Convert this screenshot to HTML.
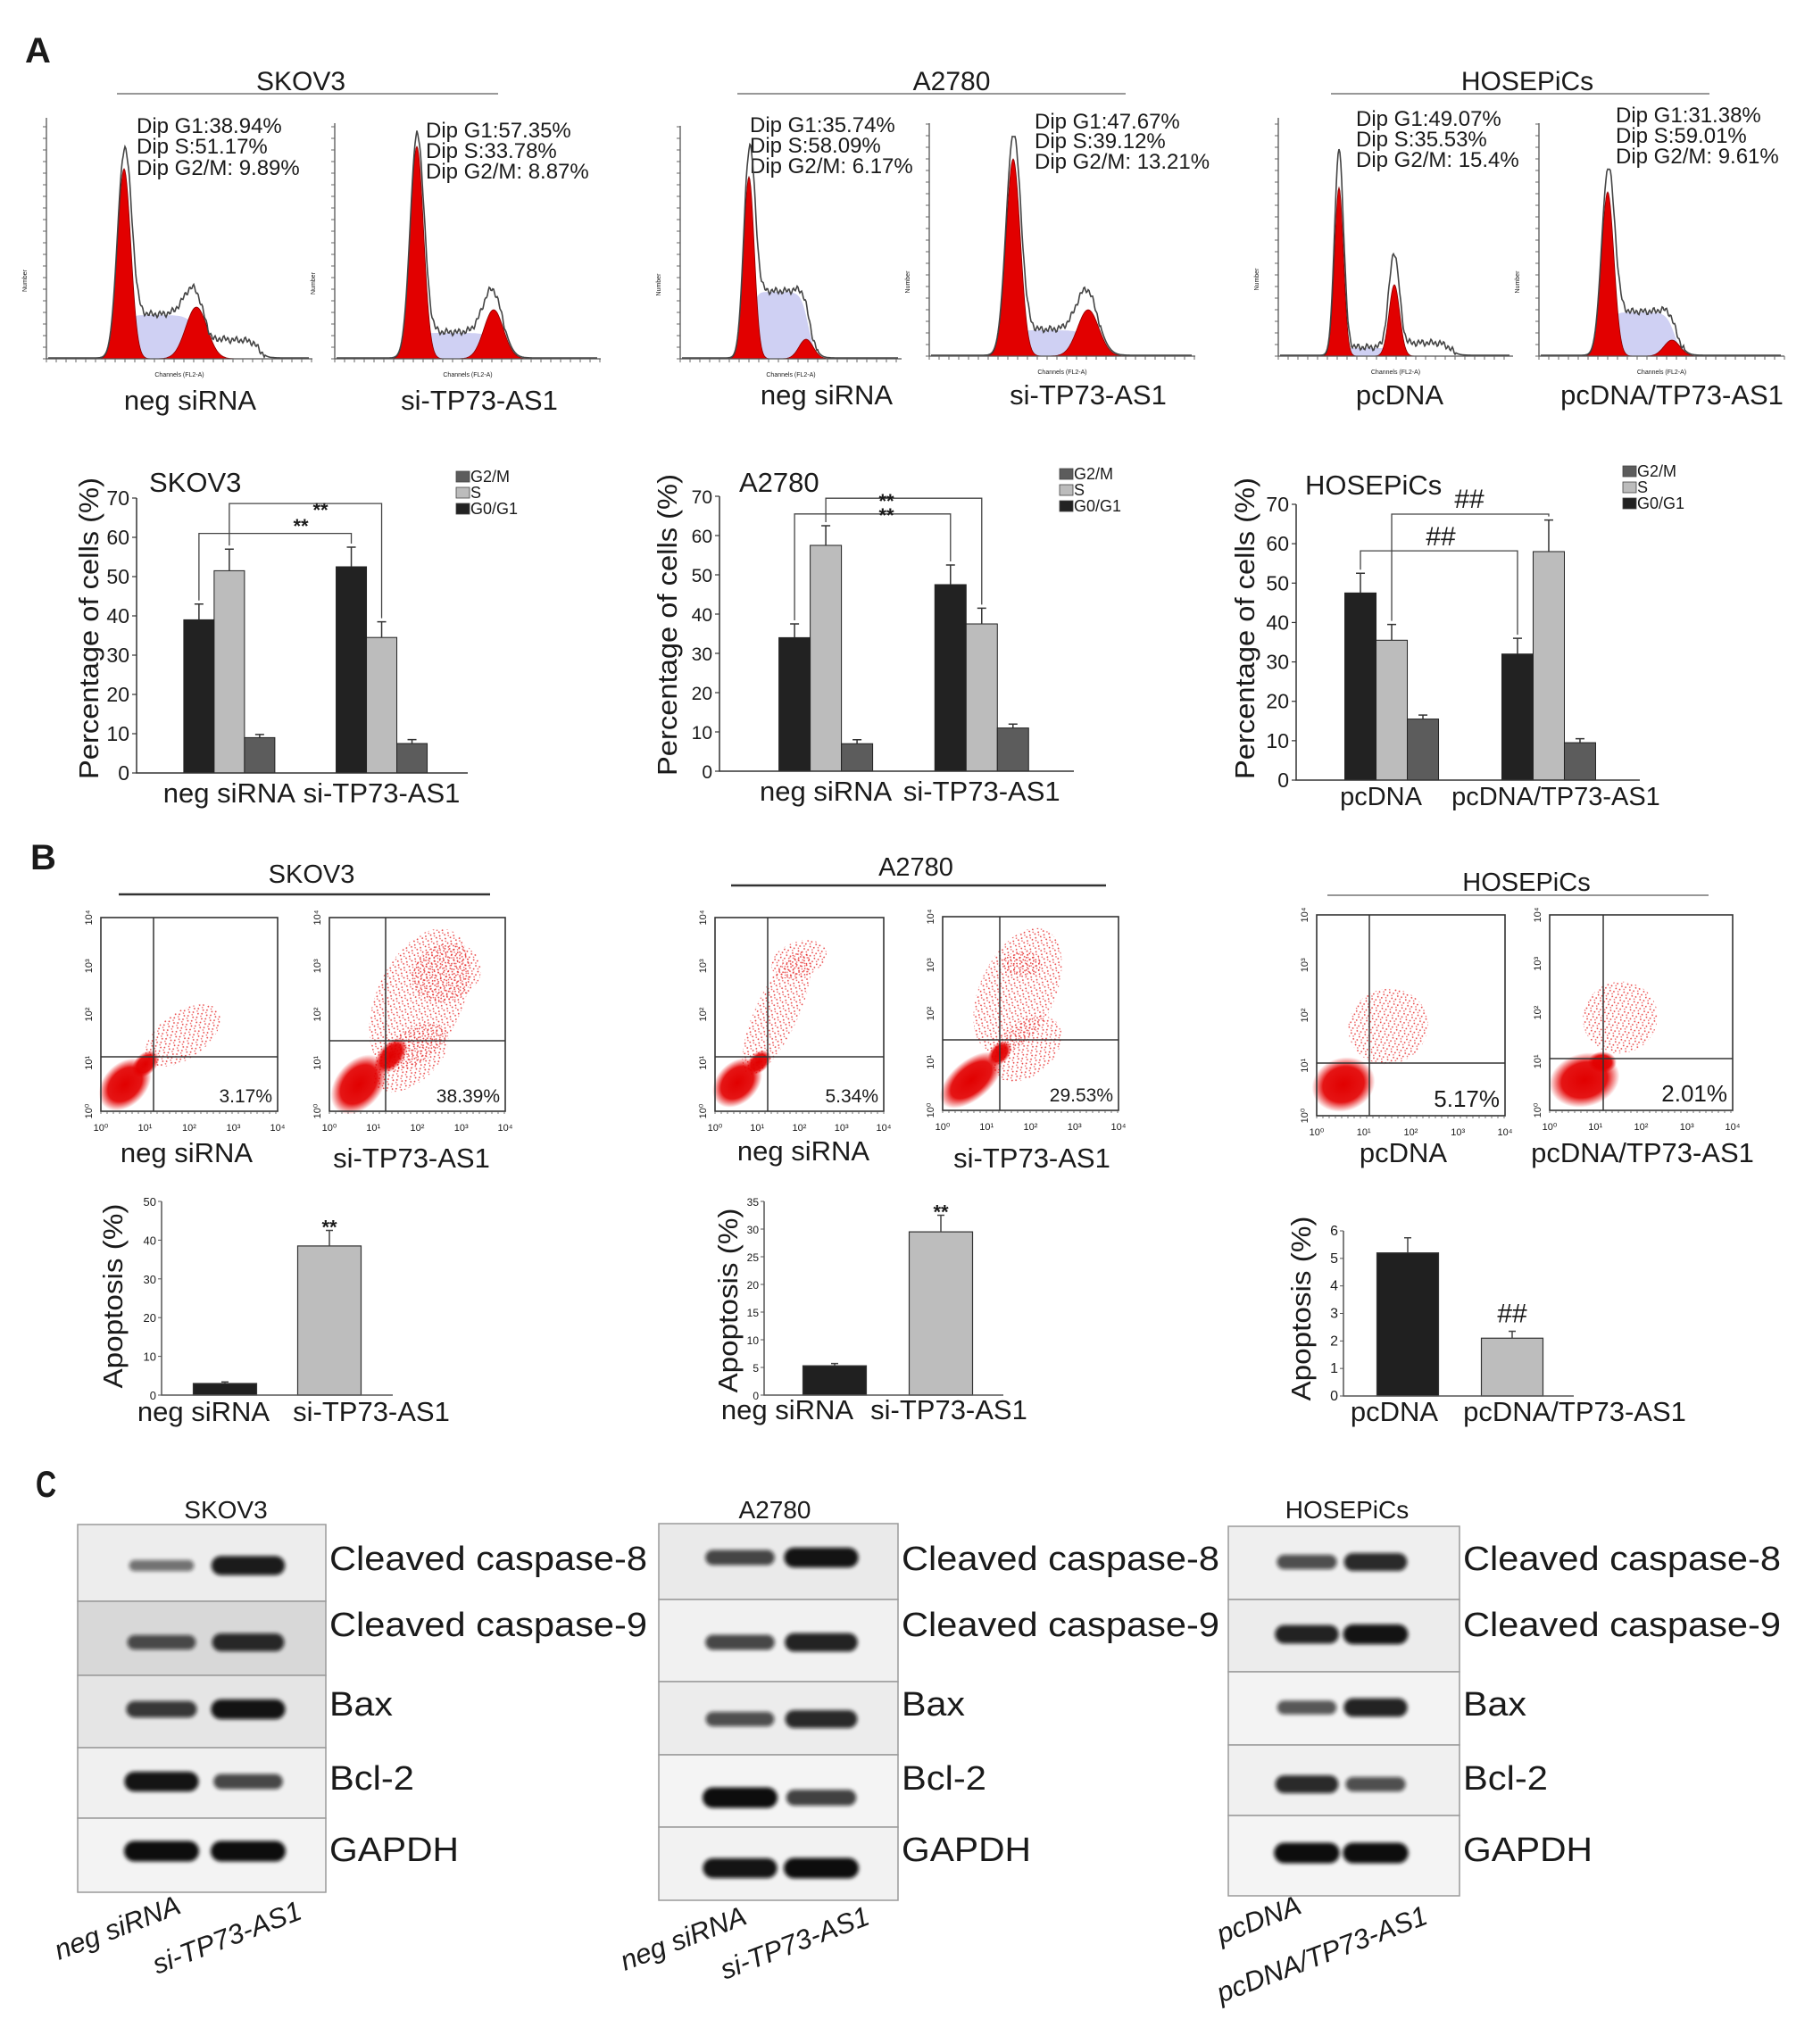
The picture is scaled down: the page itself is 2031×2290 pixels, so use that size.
<!DOCTYPE html>
<html><head><meta charset="utf-8"><style>
html,body{margin:0;padding:0;background:#fff;}
svg{display:block;}
text{font-family:"Liberation Sans",Arial,sans-serif;fill:#1a1a1a;}
</style></head><body>
<svg id="fig" width="2031" height="2290" viewBox="0 0 2031 2290" xmlns="http://www.w3.org/2000/svg">
<defs>
<filter id="blurBand" x="-20%" y="-80%" width="140%" height="260%"><feGaussianBlur stdDeviation="2.2"/></filter>
<filter id="blurSoft"><feGaussianBlur stdDeviation="3"/></filter>
<radialGradient id="denseGrad"><stop offset="0" stop-color="#e10000" stop-opacity="1"/><stop offset="0.65" stop-color="#e30000" stop-opacity="0.92"/><stop offset="1" stop-color="#e60000" stop-opacity="0"/></radialGradient>
<pattern id="dotPat" width="7" height="7" patternUnits="userSpaceOnUse"><rect x="1" y="1" width="1.6" height="1.6" fill="#e21010"/><rect x="4.5" y="3.5" width="1.6" height="1.6" fill="#e21010"/><rect x="2" y="5.2" width="1.4" height="1.4" fill="#e83030"/></pattern>
</defs>
<rect x="0" y="0" width="2031" height="2290" fill="#fff"/>

<text x="28" y="70" font-size="40" font-weight="bold">A</text>
<text x="34" y="974" font-size="40" font-weight="bold">B</text>
<text x="40" y="1677" font-size="40" font-weight="bold" transform="translate(40,1677) scale(0.8,1.05) translate(-40,-1677)">C</text>

<text x="337" y="101" font-size="30" text-anchor="middle">SKOV3</text>
<line x1="131" y1="105" x2="558" y2="105" stroke="#777" stroke-width="1.6"/>
<text x="1066" y="101" font-size="30" text-anchor="middle">A2780</text>
<line x1="826" y1="105" x2="1261" y2="105" stroke="#777" stroke-width="1.6"/>
<text x="1711" y="101" font-size="30" text-anchor="middle">HOSEPiCs</text>
<line x1="1491" y1="105" x2="1915" y2="105" stroke="#777" stroke-width="1.6"/>

<g font-size="24"><text x="153" y="149">Dip G1:38.94%</text><text x="153" y="172">Dip S:51.17%</text><text x="153" y="196">Dip G2/M: 9.89%</text></g>
<g font-size="24"><text x="477" y="154">Dip G1:57.35%</text><text x="477" y="177">Dip S:33.78%</text><text x="477" y="200">Dip G2/M: 8.87%</text></g>
<g font-size="24"><text x="840" y="148">Dip G1:35.74%</text><text x="840" y="171">Dip S:58.09%</text><text x="840" y="194">Dip G2/M: 6.17%</text></g>
<g font-size="24"><text x="1159" y="144">Dip G1:47.67%</text><text x="1159" y="166">Dip S:39.12%</text><text x="1159" y="189">Dip G2/M: 13.21%</text></g>
<g font-size="24"><text x="1519" y="141">Dip G1:49.07%</text><text x="1519" y="164">Dip S:35.53%</text><text x="1519" y="187">Dip G2/M: 15.4%</text></g>
<g font-size="24"><text x="1810" y="137">Dip G1:31.38%</text><text x="1810" y="160">Dip S:59.01%</text><text x="1810" y="183">Dip G2/M: 9.61%</text></g>

<g font-size="31" text-anchor="middle">
<text x="213" y="459">neg siRNA</text><text x="537" y="459">si-TP73-AS1</text>
<text x="926" y="453">neg siRNA</text><text x="1219" y="453">si-TP73-AS1</text>
<text x="1568" y="453">pcDNA</text><text x="1873" y="453">pcDNA/TP73-AS1</text>
</g>

<text x="349" y="989" font-size="29" text-anchor="middle">SKOV3</text>
<line x1="133" y1="1002" x2="549" y2="1002" stroke="#333" stroke-width="2.5"/>
<text x="1026" y="981" font-size="29" text-anchor="middle">A2780</text>
<line x1="819" y1="992" x2="1239" y2="992" stroke="#333" stroke-width="2.5"/>
<text x="1710" y="998" font-size="29" text-anchor="middle">HOSEPiCs</text>
<line x1="1487" y1="1003" x2="1914" y2="1003" stroke="#888" stroke-width="1.8"/>

<g font-size="31" text-anchor="middle">
<text x="209" y="1302">neg siRNA</text><text x="461" y="1308">si-TP73-AS1</text>
<text x="900" y="1300">neg siRNA</text><text x="1156" y="1308">si-TP73-AS1</text>
<text x="1572" y="1302">pcDNA</text><text x="1840" y="1302">pcDNA/TP73-AS1</text>
</g>

<text x="253" y="1701" font-size="28" text-anchor="middle">SKOV3</text>
<text x="868" y="1701" font-size="28" text-anchor="middle">A2780</text>
<text x="1509" y="1701" font-size="28" text-anchor="middle">HOSEPiCs</text>
</svg>

<script>
const cycleTicks=[0,10,20,30,40,50,60,70];
const skovCats=['neg siRNA','si-TP73-AS1'];
const skovG0G1=[39,52.5];
const skovS=[51.5,34.5];
const skovG2M=[9,7.5];
const skovErrG0G1=[4,5];
const skovErrS=[5.5,4];
const skovErrG2M=[0.8,1];

const a27Cats=['neg siRNA','si-TP73-AS1'];
const a27G0G1=[34,47.5];
const a27S=[57.5,37.5];
const a27G2M=[7,11];
const a27ErrG0G1=[3.5,5];
const a27ErrS=[5,4];
const a27ErrG2M=[1,1];

const hoseCats=['pcDNA','pcDNA/TP73-AS1'];
const hoseG0G1=[47.5,32];
const hoseS=[35.5,58];
const hoseG2M=[15.5,9.5];
const hoseErrG0G1=[5,4];
const hoseErrS=[4,8];
const hoseErrG2M=[1,1];

const skovApopCats=['neg siRNA','si-TP73-AS1'];
const skovApop=[3,38.5];
const skovApopErr=[0.4,4];
const skovApopTicks=[0,10,20,30,40,50];
const a27ApopCats=['neg siRNA','si-TP73-AS1'];
const a27Apop=[5.3,29.5];
const a27ApopErr=[0.4,3];
const a27ApopTicks=[0,5,10,15,20,25,30,35];
const hoseApopCats=['pcDNA','pcDNA/TP73-AS1'];
const hoseApop=[5.2,2.1];
const hoseApopErr=[0.55,0.25];
const hoseApopTicks=[0,1,2,3,4,5,6];

const blotRows=['Cleaved caspase-8','Cleaved caspase-9','Bax','Bcl-2','GAPDH'];
const skovLane1=[0.3,0.55,0.7,0.95,1];
const skovLane2=[0.9,0.8,0.95,0.6,1];
const a27Lane1=[0.6,0.6,0.55,1,0.95];
const a27Lane2=[0.95,0.85,0.8,0.65,1];
const hoseLane1=[0.55,0.85,0.5,0.8,1];
const hoseLane2=[0.8,0.95,0.85,0.55,1];

const NS='http://www.w3.org/2000/svg';
const svg=document.getElementById('fig');
function mk(tag,attrs,parent,txt){const e=document.createElementNS(NS,tag);for(const k in attrs)e.setAttribute(k,attrs[k]);if(txt!=null)e.textContent=txt;(parent||svg).appendChild(e);return e;}

const histPanels=[
 {id:'skov3-neg',x0:52,x1:350,top:132,base:402,g1x:139,r1:213,b1:250,s1:7.5,S:49,g2x:220,r2:58,b2:92,s2:12,tH:20,tEnd:290},
 {id:'skov3-si',x0:375,x1:673,top:138,base:402,g1x:467,r1:238,b1:261,s1:7.5,S:29,g2x:553,r2:55,b2:86,s2:11,tH:0,tEnd:0},
 {id:'a2780-neg',x0:762,x1:1010,top:141,base:402,g1x:839,r1:204,b1:256,s1:6,S:75,g2x:903,r2:22,b2:22,s2:8,tH:0,tEnd:0},
 {id:'a2780-si',x0:1041,x1:1339,top:138,base:399,g1x:1135,r1:221,b1:258,s1:8,S:29,g2x:1219,r2:52,b2:83,s2:12,tH:0,tEnd:0},
 {id:'hose-pcdna',x0:1432,x1:1695,top:132,base:399,g1x:1500,r1:189,b1:233,s1:5,S:9,g2x:1562,r2:80,b2:118,s2:6,tH:14,tEnd:1625},
 {id:'hose-tp73',x0:1724,x1:1999,top:138,base:399,g1x:1801,r1:184,b1:224,s1:7,S:49,g2x:1873,r2:18,b2:18,s2:9,tH:0,tEnd:0}
];
function drawHist(p){
 const g=mk('g',{});
 
 
 const sP=[],g1P=[],g2P=[],oP=[];
 const k1=Math.max(0.3,(p.b1-p.S*0.5)/p.r1), k2=Math.max(0.5,(p.b2-p.S)/p.r2);
 for(let x=p.x0+2;x<=p.x1-4;x+=1){
  const g1=p.r1*Math.exp(-((x-p.g1x)**2)/(2*p.s1*p.s1));
  const g2=p.r2*Math.exp(-((x-p.g2x)**2)/(2*p.s2*p.s2));
  const sl=p.S/(1+Math.exp(-(x-p.g1x-p.s1*0.5)/2.5))/(1+Math.exp((x-p.g2x-p.s2*0.3)/(p.s2*0.5)));
  const tail=p.tH?p.tH/(1+Math.exp(-(x-p.g2x-p.s2*1.8)/3))/(1+Math.exp((x-p.tEnd)/4)):0;
  const wig=(sl>4||tail>3)?2.5*Math.sin(x*1.31)+1.5*Math.sin(x*0.53):0;
  const o=g1*k1+sl+g2*k2+tail+wig+1;
  sP.push(x+','+(p.base-sl).toFixed(1));
  g1P.push(x+','+(p.base-g1).toFixed(1));
  g2P.push(x+','+(p.base-g2).toFixed(1));
  oP.push(x+','+(p.base-Math.max(0,o)).toFixed(1));
 }
 const first=(p.x0+2), last=(p.x1-4);
 const sArea=mk('polygon',{points:first+','+p.base+' '+sP.join(' ')+' '+last+','+p.base,fill:'#cfd0f3'},g);
 
 const g1Area=mk('polygon',{points:first+','+p.base+' '+g1P.join(' ')+' '+last+','+p.base,fill:'#e20000',stroke:'#8a0000','stroke-width':0.8},g);
 
 const g2Area=mk('polygon',{points:first+','+p.base+' '+g2P.join(' ')+' '+last+','+p.base,fill:'#e20000',stroke:'#8a0000','stroke-width':0.8},g);
 
 const outl=mk('polyline',{points:oP.join(' '),fill:'none',stroke:'#444','stroke-width':1.6},g);
 
 const ax=mk('path',{d:`M${p.x0},${p.top}V${p.base}H${p.x1}`,fill:'none',stroke:'#555','stroke-width':1.3},g);
 
 let t='';
 for(let y=p.base;y>=p.top;y-=13)t+=`M${p.x0-4},${y}H${p.x0}`;
 for(let x=p.x0;x<=p.x1;x+=11)t+=`M${x},${p.base}V${p.base+4}`;
 const tk=mk('path',{d:t,stroke:'#666','stroke-width':1},g);
 
 const nl=mk('text',{x:p.x0-22,y:(p.top+p.base)/2+60,'font-size':7,transform:`rotate(-90 ${p.x0-22} ${(p.top+p.base)/2+60})`,fill:'#555'},g,'Number');
 
 const cl=mk('text',{x:p.x0+(p.x1-p.x0)*0.5,y:p.base+20,'font-size':7,'text-anchor':'middle',fill:'#555'},g,'Channels (FL2-A)');
 
}
histPanels.forEach(drawHist);

function cycleChart(cfg,cats,g0,s,g2,e0,es,e2){
 const g=mk('g',{});
 
 
 const yS=v=>cfg.y0-(cfg.y0-cfg.y70)*v/70;
 const gx=i=>cfg.x0+(cfg.x1-cfg.x0)*cfg.gf[i];
 const series=[{v:g0,e:e0,c:'#222',n:'g0g1',off:-cfg.bw},{v:s,e:es,c:'#bcbcbc',n:'s',off:0},{v:g2,e:e2,c:'#5c5c5c',n:'g2m',off:cfg.bw}];
 const barTop={};
 series.forEach(se=>{
  cats.forEach((c,i)=>{
   const cx=gx(i)+se.off, y=yS(se.v[i]), ye=yS(se.v[i]+se.e[i]);
   const r=mk('rect',{x:cx-cfg.bw/2,y:y,width:cfg.bw,height:cfg.y0-y,fill:se.c,stroke:'#222','stroke-width':1},g);
   
   const eb=mk('path',{d:`M${cx},${y}V${ye}M${cx-5},${ye}H${cx+5}`,stroke:'#333','stroke-width':1.5,fill:'none'},g);
   
   barTop[se.n+i]={x:cx,y:ye};
  });
 });
 const ax=mk('path',{d:`M${cfg.x0},${cfg.y70}V${cfg.y0}H${cfg.x1}`,stroke:'#333','stroke-width':1.5,fill:'none'},g);
 
 cycleTicks.forEach(v=>{
  const tl=mk('text',{x:cfg.x0-8,y:yS(v)+8,'font-size':cfg.tfs||23,'text-anchor':'end',fill:'#333'},g,String(v));
  
  const tm=mk('line',{x1:cfg.x0-5,x2:cfg.x0,y1:yS(v),y2:yS(v),stroke:'#333','stroke-width':1.2},g);
  
 });
 cats.forEach((c,i)=>{
  const xl=mk('text',{x:gx(i)+(cfg.labOff?cfg.labOff[i]:0),y:cfg.labY,'font-size':cfg.lfs||31,'text-anchor':'middle'},g,c);
  
 });
 const yt=mk('text',{x:cfg.ylx,y:cfg.yly,'font-size':31,'text-anchor':'middle',textLength:338,lengthAdjust:'spacingAndGlyphs',transform:`rotate(-90 ${cfg.ylx} ${cfg.yly})`},g,'Percentage of cells (%)');
 
 const tt=mk('text',{x:cfg.tx,y:cfg.ty,'font-size':31},g,cfg.title);
 
 const leg=[['#5c5c5c','G2/M'],['#bcbcbc','S'],['#222','G0/G1']];
 leg.forEach((l,k)=>{
  const sq=mk('rect',{x:cfg.lx,y:cfg.ly+k*18-12,width:15,height:12,fill:l[0],stroke:'#444','stroke-width':0.8},g);
  
  const lt=mk('text',{x:cfg.lx+16,y:cfg.ly+k*18,'font-size':18},g,l[1]);
  
 });
 cfg.br.forEach(b=>{
  const a=barTop[b[0]],z=barTop[b[1]],ly=yS(b[2]);
  const bp=mk('path',{d:`M${a.x},${a.y-4}V${ly}H${z.x}V${z.y-4}`,fill:'none',stroke:'#444','stroke-width':1.3},g);
  
  const st=mk('text',{x:b[3],y:b[4],'font-size':b[5]=='##'?30:22,'text-anchor':'middle','font-weight':b[5]=='##'?'normal':'bold'},g,b[5]);
  
 });
}
cycleChart({id:'skov3',x0:153,x1:524,y0:866,y70:558,gf:[0.28,0.74],bw:34,labY:899,ylx:110,yly:704,title:'SKOV3',tx:167,ty:551,lx:511,ly:540,
 br:[['g0g10','g0g11',61,337,597,'**'],['s0','s1',68.6,359,579,'**']]},skovCats,skovG0G1,skovS,skovG2M,skovErrG0G1,skovErrS,skovErrG2M);
cycleChart({id:'a2780',x0:806,x1:1203,y0:864,y70:556,gf:[0.30,0.74],bw:35,labY:897,ylx:758,yly:700,tfs:21,title:'A2780',tx:828,ty:551,lx:1187,ly:537,
 br:[['g0g10','g0g11',65.5,993,585,'**'],['s0','s1',69.5,993,569,'**']]},a27Cats,a27G0G1,a27S,a27G2M,a27ErrG0G1,a27ErrS,a27ErrG2M);
cycleChart({id:'hosepics',x0:1452,x1:1837,y0:874,y70:565,gf:[0.278,0.735],bw:35,labY:902,lfs:29,labOff:[-12,8],ylx:1405,yly:704,title:'HOSEPiCs',tx:1462,ty:554,lx:1818,ly:534,
 br:[['s0','s1',67.5,1646,569,'##'],['g0g10','g0g11',58.2,1614,611,'##']]},hoseCats,hoseG0G1,hoseS,hoseG2M,hoseErrG0G1,hoseErrS,hoseErrG2M);

const scatterPanels=[
 {id:'skov3-neg',box:[113,1028,311,1245],v:172,h:1184,pct:'3.17%',fs:21,
  clouds:[[205,1160,48,26,-35,0],[140,1215,34,24,-45,1],[163,1192,18,12,-45,1]]},
 {id:'skov3-si',box:[369,1028,566,1245],v:432,h:1166,pct:'38.39%',fs:21,
  clouds:[[470,1120,85,48,-65,0],[500,1090,40,32,-20,0],[460,1185,50,28,-40,0],[402,1215,38,26,-50,1],[438,1183,24,14,-50,1]]},
 {id:'a2780-neg',box:[801,1028,990,1245],v:860,h:1184,pct:'5.34%',fs:21,
  clouds:[[870,1135,75,24,-65,0],[895,1075,32,20,-20,0],[826,1213,32,23,-45,1],[850,1190,16,11,-45,1]]},
 {id:'a2780-si',box:[1056,1027,1253,1244],v:1120,h:1165,pct:'29.53%',fs:21,
  clouds:[[1140,1110,75,42,-65,0],[1145,1080,22,14,0,0],[1150,1175,45,30,-40,0],[1088,1210,42,22,-40,1],[1120,1180,16,11,-50,1]]},
 {id:'hose-pcdna',box:[1475,1025,1686,1250],v:1534,h:1191,pct:'5.17%',fs:26,
  clouds:[[1555,1150,45,42,-20,0],[1505,1215,36,30,-20,1]]},
 {id:'hose-tp73',box:[1736,1025,1941,1244],v:1796,h:1186,pct:'2.01%',fs:26,
  clouds:[[1815,1140,42,40,-20,0],[1775,1210,40,30,-15,1],[1795,1190,16,12,0,1]]}
];
function drawScatter(p){
 const g=mk('g',{});
 
 
 const [x0,y0,x1,y1]=p.box;
 p.clouds.forEach(c=>{
  const e=mk('ellipse',{cx:c[0],cy:c[1],rx:c[2],ry:c[3],transform:`rotate(${c[4]} ${c[0]} ${c[1]})`,fill:c[5]?'url(#denseGrad)':'url(#dotPat)',opacity:c[5]?1:0.75},g);
  
 });
 const bx=mk('rect',{x:x0,y:y0,width:x1-x0,height:y1-y0,fill:'none',stroke:'#333','stroke-width':1.6},g);
 
 const q=mk('path',{d:`M${p.v},${y0}V${y1}M${x0},${p.h}H${x1}`,stroke:'#333','stroke-width':1.5},g);
 
 const pt=mk('text',{x:x1-6,y:y1-10,'font-size':p.fs,'text-anchor':'end',fill:'#222'},g,p.pct);
 
 for(let k=0;k<5;k++){
  const tx=x0+(x1-x0)*k/4, ty=y1-(y1-y0)*k/4;
  const xl=mk('text',{x:tx,y:y1+22,'font-size':11,'text-anchor':'middle',fill:'#444'},g,'10'+'⁰¹²³⁴'[k]);
  
  const yl=mk('text',{x:x0-10,y:ty,'font-size':11,'text-anchor':'middle',fill:'#444',transform:`rotate(-90 ${x0-10} ${ty})`},g,'10'+'⁰¹²³⁴'[k]);
  
 }
 let t='';for(let x=x0;x<=x1;x+=7)t+=`M${x},${y1}V${y1+3}`;
 const tk=mk('path',{d:t,stroke:'#555','stroke-width':0.8},g);
 
}
scatterPanels.forEach(drawScatter);

function apopChart(cfg,cats,vals,errs,ticks){
 const g=mk('g',{});
 
 
 const yMax=ticks[ticks.length-1];
 const yS=v=>cfg.y0-(cfg.y0-cfg.yTop)*v/yMax;
 const cols=['#202020','#bdbdbd'];
 cats.forEach((c,i)=>{
  const cx=cfg.cx[i], y=yS(vals[i]), ye=yS(vals[i]+errs[i]);
  const r=mk('rect',{x:cx-cfg.bw/2,y:y,width:cfg.bw,height:cfg.y0-y,fill:cols[i],stroke:'#333','stroke-width':1.2},g);
  
  const eb=mk('path',{d:`M${cx},${y}V${ye}M${cx-4},${ye}H${cx+4}`,stroke:'#444','stroke-width':1.5,fill:'none'},g);
  
  const xl=mk('text',{x:cfg.lx[i],y:cfg.labY,'font-size':31,'text-anchor':'middle'},g,c);
  
  if(i==1){
   const st=mk('text',{x:cx,y:ye-(cfg.mark=='##'?10:-4),'font-size':cfg.mark=='##'?30:22,'text-anchor':'middle','font-weight':cfg.mark=='##'?'normal':'bold'},g,cfg.mark);
   
  }
 });
 const ax=mk('path',{d:`M${cfg.x0},${cfg.yTop}V${cfg.y0}H${cfg.x1}`,stroke:'#555','stroke-width':1.5,fill:'none'},g);
 
 ticks.forEach(v=>{
  const tl=mk('text',{x:cfg.x0-6,y:yS(v)+5,'font-size':cfg.tfs,'text-anchor':'end',fill:'#333'},g,String(v));
  
  const tm=mk('line',{x1:cfg.x0-4,x2:cfg.x0,y1:yS(v),y2:yS(v),stroke:'#555','stroke-width':1},g);
  
 });
 const yt=mk('text',{x:cfg.ylx,y:cfg.yly,'font-size':31,'text-anchor':'middle',textLength:207,lengthAdjust:'spacingAndGlyphs',transform:`rotate(-90 ${cfg.ylx} ${cfg.yly})`},g,'Apoptosis (%)');
 
}
apopChart({id:'skov3',x0:181,x1:440,y0:1563,yTop:1346,cx:[252,369],bw:71,lx:[228,416],labY:1592,ylx:137,yly:1452,tfs:13,mark:'**'},skovApopCats,skovApop,skovApopErr,skovApopTicks);
apopChart({id:'a2780',x0:856,x1:1124,y0:1563,yTop:1346,cx:[935,1054],bw:71,lx:[882,1063],labY:1590,ylx:826,yly:1457,tfs:12,mark:'**'},a27ApopCats,a27Apop,a27ApopErr,a27ApopTicks);
apopChart({id:'hosepics',x0:1505,x1:1763,y0:1564,yTop:1379,cx:[1577,1694],bw:69,lx:[1562,1764],labY:1592,ylx:1468,yly:1466,tfs:16,mark:'##'},hoseApopCats,hoseApop,hoseApopErr,hoseApopTicks);

const labelBase=[1759,1833,1922,2005,2085];
const labelLen=[356,356,71,95,145];
function drawBlot(cfg,l1,l2){
 const g=mk('g',{});
 
 
 blotRows.forEach((r,i)=>{
  const ry=cfg.rows[i], rh=cfg.rows[i+1]-cfg.rows[i];
  const bg=mk('rect',{x:cfg.x0,y:ry,width:cfg.x1-cfg.x0,height:rh,fill:cfg.bg[i],stroke:'#9a9a9a','stroke-width':1.5},g);
  
  [l1[i],l2[i]].forEach((s,k)=>{
   const h=8+15*s, w=cfg.bwid*(0.85+0.2*s);
   const b=mk('rect',{x:cfg.lanes[k]-w/2,y:cfg.bandY[i]-h/2,width:w,height:h,rx:h/2,fill:'#0a0a0a',opacity:0.35+0.65*s,filter:'url(#blurBand)'},g);
   
  });
  const lb=mk('text',{x:cfg.lblX,y:labelBase[i],'font-size':38,textLength:labelLen[i],lengthAdjust:'spacingAndGlyphs',fill:'#111'},g,r);
  
 });
 cfg.lane.forEach(L=>{
  const t=mk('text',{x:L[1],y:L[2],'font-size':31,'font-style':'italic',transform:`rotate(-21 ${L[1]} ${L[2]})`},g,L[0]);
  
 });
}
drawBlot({id:'skov3',x0:87,x1:365,rows:[1708,1794,1877,1958,2037,2120],lanes:[181,278],bandY:[1754,1840,1915,1996,2074],bwid:80,lblX:369,
 bg:['#ededed','#d8d8d8','#e5e5e5','#f0f0f0','#f3f3f3'],lane:[['neg siRNA',66,2196],['si-TP73-AS1',176,2212]]},skovLane1,skovLane2);
drawBlot({id:'a2780',x0:738,x1:1006,rows:[1707,1792,1884,1966,2047,2129],lanes:[829,920],bandY:[1745,1840,1926,2014,2093],bwid:80,lblX:1010,
 bg:['#eaeaea','#f1f1f1','#ececec','#f4f4f4','#f2f2f2'],lane:[['neg siRNA',700,2208],['si-TP73-AS1',812,2218]]},a27Lane1,a27Lane2);
drawBlot({id:'hosepics',x0:1376,x1:1635,rows:[1710,1792,1873,1955,2034,2124],lanes:[1464,1541],bandY:[1750,1831,1913,1999,2076],bwid:70,lblX:1639,
 bg:['#efefef','#ececec','#f3f3f3','#f0f0f0','#f4f4f4'],lane:[['pcDNA',1368,2178],['pcDNA/TP73-AS1',1368,2244]]},hoseLane1,hoseLane2);
</script>
</body></html>
